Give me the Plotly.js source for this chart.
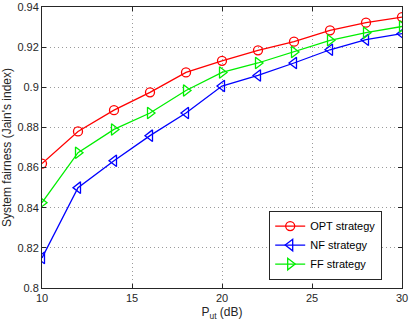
<!DOCTYPE html>
<html>
<head>
<meta charset="utf-8">
<script src="https://cdn.plot.ly/plotly-3.0.1.min.js"></script>
<style>
  html, body { margin: 0; padding: 0; background: #fff; }
  #chart { width: 409px; height: 327px; }
</style>
</head>
<body>
<div id="chart"></div>
<script>
const putDb = [10, 12, 14, 16, 18, 20, 22, 24, 26, 28, 30];
const optValues = [0.862, 0.878, 0.8886, 0.8975, 0.9074, 0.9132, 0.9184, 0.9227, 0.9284, 0.9322, 0.935];
const nfValues = [0.815, 0.850, 0.8634, 0.8759, 0.8872, 0.9006, 0.9059, 0.9121, 0.9187, 0.9237, 0.9267];
const ffValues = [0.8425, 0.8674, 0.879, 0.8872, 0.8984, 0.9074, 0.9121, 0.9176, 0.9234, 0.9272, 0.9303];
const yTicks = [0.8, 0.82, 0.84, 0.86, 0.88, 0.9, 0.92, 0.94];
const yTickText = ['0.8', '0.82', '0.84', '0.86', '0.88', '0.9', '0.92', '0.94'];

const makeTrace = (y, name, color, symbol, size) => ({
    x: putDb,
    y: y,
    mode: 'lines+markers',
    name: name,
    line: {color: color, width: 1.3},
    marker: {symbol: symbol, size: size, color: color, line: {color: color, width: 1.3}}
});

const traces = [
    makeTrace(optValues, 'OPT strategy', '#ff0000', 'circle-open', 9),
    makeTrace(nfValues, 'NF strategy', '#0000ff', 'triangle-left-open', 10),
    makeTrace(ffValues, 'FF strategy', '#00ee00', 'triangle-right-open', 10)
];

const axisCommon = {
    showline: true,
    linecolor: '#262626',
    linewidth: 1,
    mirror: 'ticks',
    ticks: 'inside',
    ticklen: 4,
    tickcolor: '#262626',
    showgrid: true,
    gridcolor: '#9a9a9a',
    griddash: '1px,3px',
    gridwidth: 1,
    zeroline: false,
    tickfont: {size: 11, color: '#262626'}
};

const layout = {
    width: 409,
    height: 327,
    margin: {l: 42, r: 7, t: 7, b: 39},
    paper_bgcolor: '#fff',
    plot_bgcolor: '#fff',
    font: {family: 'Liberation Sans, Arial, sans-serif', size: 11, color: '#262626'},
    xaxis: Object.assign({}, axisCommon, {
        range: [10, 30],
        tickvals: [10, 15, 20, 25, 30],
        title: {text: 'P<sub>ut</sub> (dB)', standoff: 4, font: {size: 12}}
    }),
    yaxis: Object.assign({}, axisCommon, {
        range: [0.8, 0.94],
        tickvals: yTicks,
        ticktext: yTickText,
        title: {text: "System fairness (Jain's index)", standoff: 6, font: {size: 12}}
    }),
    legend: {
        x: 0.945, y: 0.03,
        xanchor: 'right', yanchor: 'bottom',
        bordercolor: '#262626', borderwidth: 1,
        bgcolor: '#fff',
        font: {size: 11, color: '#000'},
        tracegroupgap: 0,
        itemwidth: 30
    },
    showlegend: true
};

Plotly.newPlot('chart', traces, layout, {displayModeBar: false, staticPlot: true});
</script>
</body>
</html>
